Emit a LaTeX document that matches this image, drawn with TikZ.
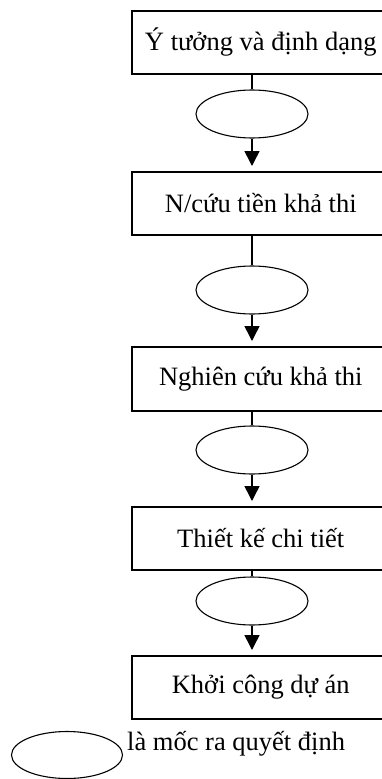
\documentclass[tikz,border=0pt]{standalone}
\usepackage{fontspec}
\setmainfont{Liberation Serif}
\usetikzlibrary{arrows.meta,shapes.geometric}
\begin{document}
\begin{tikzpicture}[x=1pt,y=-1pt,
  label font/.style={font=\fontsize{26.5}{30}\selectfont},
  stage/.style={draw,line width=1.5pt,minimum width=258pt,minimum height=63pt,inner sep=0pt,label font,anchor=north west},
  milestone/.style={draw,ellipse,line width=1.1pt,minimum width=112pt,minimum height=48pt,inner sep=0pt},
  link/.style={line width=1.5pt},
  arr/.style={line width=1.5pt,-{Triangle[width=15pt,length=15pt]},shorten >=5pt}]
\clip (0,0) rectangle (382,779);
\node[stage] (b1) at (131,10) {Ý tưởng và định dạng};
\node[stage] (b2) at (131,171) {N/cứu tiền khả thi};
\node[stage,minimum height=64pt] (b3) at (131,346) {Nghiên cứu khả thi};
\node[stage] (b4) at (131,506) {Thiết kế chi tiết};
\node[stage] (b5) at (131,655) {Khởi công dự án};
\node[milestone] (e1) at (252,114) {};
\node[milestone] (e2) at (252,290) {};
\node[milestone] (e3) at (252,450) {};
\node[milestone] (e4) at (252,601) {};
\draw[link] (b1.south -| e1) -- (e1.north);
\draw[arr] (e1.south) -- (b2.north -| e1);
\draw[link] (b2.south -| e2) -- (e2.north);
\draw[arr] (e2.south) -- (b3.north -| e2);
\draw[link] (b3.south -| e3) -- (e3.north);
\draw[arr] (e3.south) -- (b4.north -| e3);
\draw[link] (b4.south -| e4) -- (e4.north);
\draw[arr] (e4.south) -- (b5.north -| e4);
\node[milestone,minimum width=111pt,minimum height=47pt] (key) at (67,755) {};
\node[anchor=base west,inner sep=0pt,label font] (keytext) at (127,750) {là mốc ra quyết định};
\end{tikzpicture}
\end{document}
